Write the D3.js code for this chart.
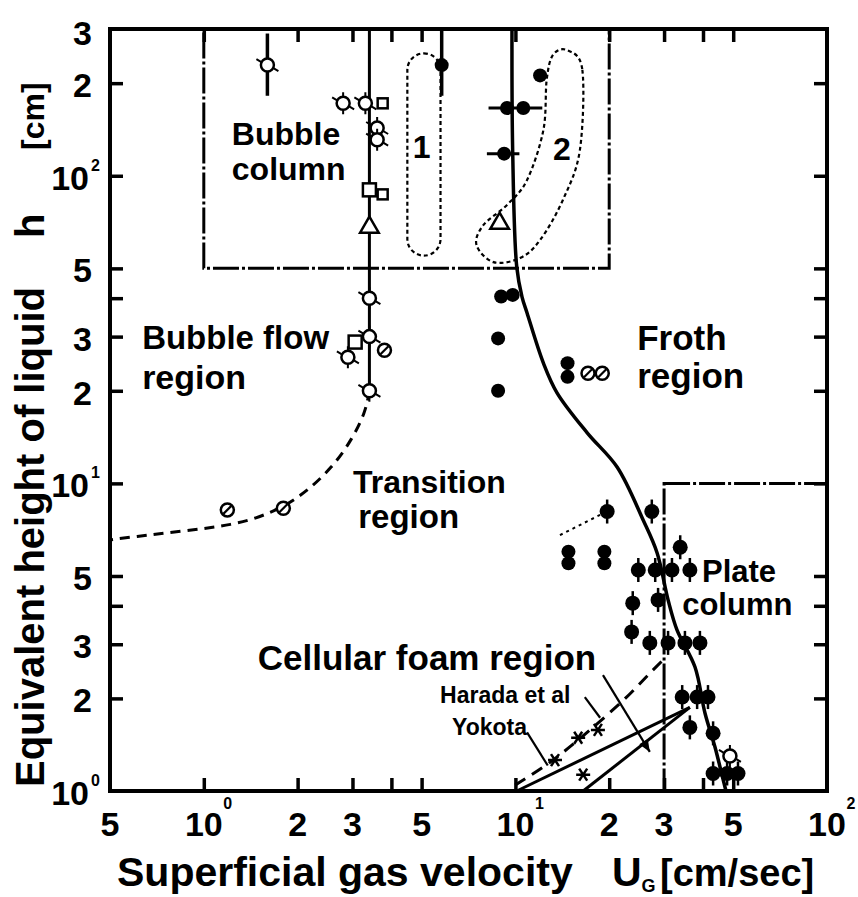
<!DOCTYPE html>
<html>
<head>
<meta charset="utf-8">
<script src="https://cdn.jsdelivr.net/npm/d3@7"></script>
<style>
  body { margin: 0; background: #fff; }
  text { font-family: "Liberation Sans", Arial, sans-serif; font-weight: bold; fill: #000; }
</style>
</head>
<body>
<script>
// ---- data ----
var xTicks = [1, 2, 3, 4, 5, 10, 20, 30, 40, 50];
var yTicks = [2, 3, 4, 5, 10, 20, 30, 40, 50, 100, 200];
var xTickLabels = [[0.5, "5", ""], [1, "10", "0"], [2, "2", ""], [3, "3", ""], [5, "5", ""],
                   [10, "10", "1"], [20, "2", ""], [30, "3", ""], [50, "5", ""], [100, "10", "2"]];
var yTickLabels = [[1, "10", "0"], [2, "2", ""], [3, "3", ""], [5, "5", ""], [10, "10", "1"],
                   [20, "2", ""], [30, "3", ""], [50, "5", ""], [100, "10", "2"], [200, "2", ""], [300, "3", ""]];

// region boxes [[x0,x1],[y0,y1]]
var bubbleColumnBox = [[1, 20], [50, 300]];
var plateColumnBox = [[30, 100], [1, 10]];
// dotted loops
var loop1 = [[4.5, 5.75], [55, 250]];
var loop2 = [[14.65, 256], [16.4, 221], [16.1, 121], [14.2, 83.4], [12.0, 61.8], [10.35, 54],
             [8.5, 52.4], [7.5, 59.6], [7.9, 69.2], [9.4, 80.4], [10.9, 96.9], [12.3, 141],
             [12.6, 205], [13.2, 247]];

// boundary curves
var bubbleLine = [[3.4, 300], [3.4, 20]];
var bubbleDash = [[3.4, 20], [3.3, 17], [3.0, 14], [2.6, 11.3], [2.04, 9.0], [1.6, 7.9],
                  [1.24, 7.32], [0.86, 7.0], [0.59, 6.7], [0.5, 6.55]];
var frothLine = [[9.75, 300], [9.8, 121], [10.1, 50.5], [10.5, 40.4], [10.9, 35.8], [12.3, 24.6],
                 [13.6, 19.7], [17.0, 14.6], [21.2, 11.3], [25.7, 7.6], [28.5, 5.94], [30.9, 4.18],
                 [33.0, 3.34], [37.7, 2.53], [40.6, 1.79], [43.7, 1.39], [46, 1.13], [47.4, 1.0]];
var cellularDash = [[9.98, 1.045], [13.2, 1.26], [21.7, 1.93], [27.6, 2.47], [29.8, 2.67]];
var haradaLine = [[10.1, 1.0], [36.3, 1.87]];
var yokotaLine = [[16.5, 1.0], [36.3, 1.87]];

// leader lines
var cellularLeader = [[19.1, 2.38], [27.0, 1.34]];
var haradaLeader = [[16.7, 2.02], [18.7, 1.73]];
var yokotaLeader = [[10.9, 1.55], [12.7, 1.21]];
var transitionLeader = [[13.9, 6.79], [18.7, 7.9]];

// markers
var openCircles = [[1.6, 229], [2.8, 172], [3.3, 172], [3.6, 143], [3.6, 131], [3.4, 40],
                   [3.4, 30], [2.9, 25.7], [3.4, 20], [48.8, 1.3]];
var openSquares = [[3.4, 90], [3.06, 28.8]];
var smallSquares = [[3.75, 172], [3.75, 87]];
var openTriangles = [[3.4, 68], [8.9, 70]];
var slashCircles = [[1.19, 8.2], [1.8, 8.3], [3.8, 27.1], [17.1, 22.8], [19.0, 22.8]];
var filledPlain = [[5.8, 229], [12, 212], [9.4, 166], [10.6, 166], [9.2, 118], [9.0, 40.5], [9.8, 41],
                   [8.8, 29.6], [8.8, 20], [14.7, 24.6], [14.7, 22.2], [14.8, 6.0], [14.8, 5.5],
                   [19.3, 6.0], [19.3, 5.5]];
var filledPinned = [[19.7, 8.1], [27.4, 8.1], [33.8, 6.2],
                    [24.8, 5.23], [28.1, 5.23], [31.8, 5.23], [36.3, 5.23],
                    [23.8, 4.08], [28.7, 4.18], [23.6, 3.29],
                    [27.0, 3.03], [30.9, 3.03], [35.0, 3.03], [39.1, 3.03],
                    [34.3, 2.02], [38.3, 2.02], [41.5, 2.02],
                    [36.3, 1.61], [43.1, 1.54], [43.1, 1.14], [47.8, 1.14], [51.8, 1.14]];
var stars = [[13.4, 1.26], [15.9, 1.49], [18.4, 1.58], [16.5, 1.13]];
// error bars: vertical [x, yTop, yBottom], horizontal [xLeft, xRight, y]
var vBars = [[1.6, 290, 182], [5.8, 298, 182]];
var hBars = [[8.2, 12.2, 166], [8.1, 10.3, 118]];

// annotations [text, x, y, size, anchor]
var notes = [["Bubble", 1.23, 126, 32, "start"], ["column", 1.23, 97, 32, "start"],
             ["1", 5.0, 114, 32, "middle"], ["2", 14.1, 112.5, 32, "middle"],
             ["Bubble flow", 0.634, 27.3, 33, "start"], ["region", 0.634, 20.2, 34, "start"],
             ["Froth", 24.6, 27.1, 35, "start"], ["region", 24.6, 20.4, 35, "start"],
             ["Transition", 3.01, 9.3, 32, "start"], ["region", 3.13, 7.16, 33, "start"],
             ["Plate", 39.7, 4.78, 31, "start"], ["column", 34.3, 3.73, 31, "start"],
             ["Cellular foam region", 1.49, 2.47, 35, "start"],
             ["Harada et al", 5.73, 1.93, 23, "start"], ["Yokota", 6.26, 1.52, 23, "start"]];

// ---- chart ----
var width = 858, height = 897;
var svg = d3.select("body").append("svg")
    .attr("width", width)
    .attr("height", height);

var x = d3.scaleLog().domain([0.5, 100]).range([110, 827]);
var y = d3.scaleLog().domain([1, 300]).range([791, 29]);

var line = d3.line()
    .x(function(d) { return x(d[0]); })
    .y(function(d) { return y(d[1]); });

// ticks (inward on all four sides)
function tickAxis(axis, tx, ty, vals) {
  var g = svg.append("g")
      .attr("transform", "translate(" + tx + "," + ty + ")")
      .call(axis.tickValues(vals).tickSize(-13).tickSizeOuter(0).tickFormat(""));
  g.select(".domain").remove();
  g.selectAll(".tick line").attr("stroke", "#000").attr("stroke-width", 3.5);
}
tickAxis(d3.axisBottom(x), 0, 791, xTicks);
tickAxis(d3.axisTop(x), 0, 29, xTicks);
tickAxis(d3.axisLeft(y), 110, 0, yTicks);
tickAxis(d3.axisRight(y), 827, 0, yTicks);

svg.append("rect")
    .attr("x", x(0.5)).attr("y", y(300))
    .attr("width", x(100) - x(0.5)).attr("height", y(1) - y(300))
    .attr("fill", "none").attr("stroke", "#000").attr("stroke-width", 4);

// tick labels
xTickLabels.forEach(function(d) {
  svg.append("text").attr("x", x(d[0])).attr("y", 836)
      .attr("text-anchor", "middle").style("font-size", "34px").text(d[1]);
  if (d[2]) {
    svg.append("text").attr("x", x(d[0]) + 19.5).attr("y", 809)
        .style("font-size", "16px").text(d[2]);
  }
});
yTickLabels.forEach(function(d) {
  var ty = y(d[0]) + 14;
  if (d[0] == 300) ty = y(d[0]) + 16;
  svg.append("text").attr("x", d[2] ? 89 : 92).attr("y", ty)
      .attr("text-anchor", "end").style("font-size", "34px").text(d[1]);
  if (d[2]) {
    svg.append("text").attr("x", 91).attr("y", ty - 19)
        .style("font-size", "16px").text(d[2]);
  }
});

// axis titles
var xt = svg.append("text").attr("x", 117).attr("y", 886).style("font-size", "41px");
xt.append("tspan").text("Superficial gas velocity");
xt.append("tspan").attr("x", 612).text("U");
xt.append("tspan").attr("dy", 6).style("font-size", "18px").text("G");
xt.append("tspan").attr("x", 660).attr("dy", -6).style("font-size", "38px").text("[cm/sec]");

svg.append("text").attr("transform", "translate(44,787) rotate(-90)")
    .style("font-size", "40px").text("Equivalent height of liquid");
svg.append("text").attr("transform", "translate(44,238) rotate(-90)")
    .style("font-size", "40px").text("h");
svg.append("text").attr("transform", "translate(44,150) rotate(-90)")
    .style("font-size", "32px").text("[cm]");

// region boxes
function box(b) {
  svg.append("rect")
      .attr("x", x(b[0][0])).attr("y", y(b[1][1]))
      .attr("width", x(b[0][1]) - x(b[0][0])).attr("height", y(b[1][0]) - y(b[1][1]))
      .attr("fill", "none").attr("stroke", "#000").attr("stroke-width", 3)
      .attr("stroke-dasharray", "26,3,3,3");
}
box(bubbleColumnBox);
box(plateColumnBox);

// dotted loops
svg.append("rect")
    .attr("x", x(loop1[0][0])).attr("y", y(loop1[1][1]))
    .attr("width", x(loop1[0][1]) - x(loop1[0][0])).attr("height", y(loop1[1][0]) - y(loop1[1][1]))
    .attr("rx", (x(loop1[0][1]) - x(loop1[0][0])) / 2)
    .attr("fill", "none").attr("stroke", "#000").attr("stroke-width", 2.2)
    .attr("stroke-dasharray", "4,3");
svg.append("path").datum(loop2)
    .attr("d", line.curve(d3.curveCardinalClosed))
    .attr("fill", "none").attr("stroke", "#000").attr("stroke-width", 2.2)
    .attr("stroke-dasharray", "4,3");
line.curve(d3.curveLinear);

// curves
function curve(pts, sw, dash, c) {
  svg.append("path").datum(pts)
      .attr("d", line.curve(c || d3.curveLinear))
      .attr("fill", "none").attr("stroke", "#000").attr("stroke-width", sw)
      .attr("stroke-dasharray", dash || null);
}
curve(bubbleLine, 3);
curve(bubbleDash, 3, "10,7", d3.curveBasis);
curve(frothLine, 3.5, null, d3.curveCatmullRom);
curve(cellularDash, 3, "12,8", d3.curveCatmullRom);
curve(haradaLine, 3);
curve(yokotaLine, 3);
curve(cellularLeader, 2.2);
curve(haradaLeader, 2.2);
curve(yokotaLeader, 2.2);
curve(transitionLeader, 2, "3,4");

// arrow head at end of the cellular foam leader
(function() {
  var p0 = cellularLeader[0], p1 = cellularLeader[1];
  var a = Math.atan2(y(p1[1]) - y(p0[1]), x(p1[0]) - x(p0[0])) * 180 / Math.PI;
  svg.append("path")
      .attr("d", "M0,0L-12,-5L-12,5Z")
      .attr("transform", "translate(" + x(p1[0]) + "," + y(p1[1]) + ") rotate(" + a + ")")
      .attr("fill", "#000");
})();

// error bars
svg.selectAll(".vbar").data(vBars).enter().append("line")
    .attr("x1", function(d) { return x(d[0]); }).attr("x2", function(d) { return x(d[0]); })
    .attr("y1", function(d) { return y(d[1]); }).attr("y2", function(d) { return y(d[2]); })
    .attr("stroke", "#000").attr("stroke-width", 3.5);
svg.selectAll(".hbar").data(hBars).enter().append("line")
    .attr("x1", function(d) { return x(d[0]); }).attr("x2", function(d) { return x(d[1]); })
    .attr("y1", function(d) { return y(d[2]); }).attr("y2", function(d) { return y(d[2]); })
    .attr("stroke", "#000").attr("stroke-width", 3);

// markers
function place(data) {
  return svg.selectAll(null).data(data).enter().append("g")
      .attr("transform", function(d) { return "translate(" + x(d[0]) + "," + y(d[1]) + ")"; });
}
var filledPin = place(filledPinned);
filledPin.append("line").attr("y1", -12).attr("y2", 12).attr("stroke", "#000").attr("stroke-width", 2.5);
filledPin.append("circle").attr("r", 7.5).attr("fill", "#000");
place(filledPlain).append("circle").attr("r", 7).attr("fill", "#000");

var oc = place(openCircles);
oc.append("path").attr("d", "M-11,-6L-6,-3M11,6L6,3M0,-7V-11M0,7V11")
    .attr("stroke", "#000").attr("stroke-width", 2);
oc.append("circle").attr("r", 6.5).attr("fill", "#fff").attr("stroke", "#000").attr("stroke-width", 2.5);

var sc = place(slashCircles);
sc.append("circle").attr("r", 6.5).attr("fill", "#fff").attr("stroke", "#000").attr("stroke-width", 2.5);
sc.append("line").attr("x1", -4).attr("y1", 4).attr("x2", 4).attr("y2", -4)
    .attr("stroke", "#000").attr("stroke-width", 2.2);

place(openSquares).append("rect").attr("x", -6.5).attr("y", -6.5).attr("width", 13).attr("height", 13)
    .attr("fill", "#fff").attr("stroke", "#000").attr("stroke-width", 2.5);
place(smallSquares).append("rect").attr("x", -5).attr("y", -5).attr("width", 10).attr("height", 10)
    .attr("fill", "#fff").attr("stroke", "#000").attr("stroke-width", 2.5);
place(openTriangles).append("path").attr("d", d3.symbol(d3.symbolTriangle, 150))
    .attr("fill", "#fff").attr("stroke", "#000").attr("stroke-width", 2.5);
place(stars).append("path").attr("d", "M-7,0H7M-4,-6L4,6M4,-6L-4,6")
    .attr("stroke", "#000").attr("stroke-width", 2.5);

// annotations
notes.forEach(function(d) {
  svg.append("text").attr("x", x(d[1])).attr("y", y(d[2]))
      .attr("text-anchor", d[4]).style("font-size", d[3] + "px").text(d[0]);
});
</script>
</body>
</html>
